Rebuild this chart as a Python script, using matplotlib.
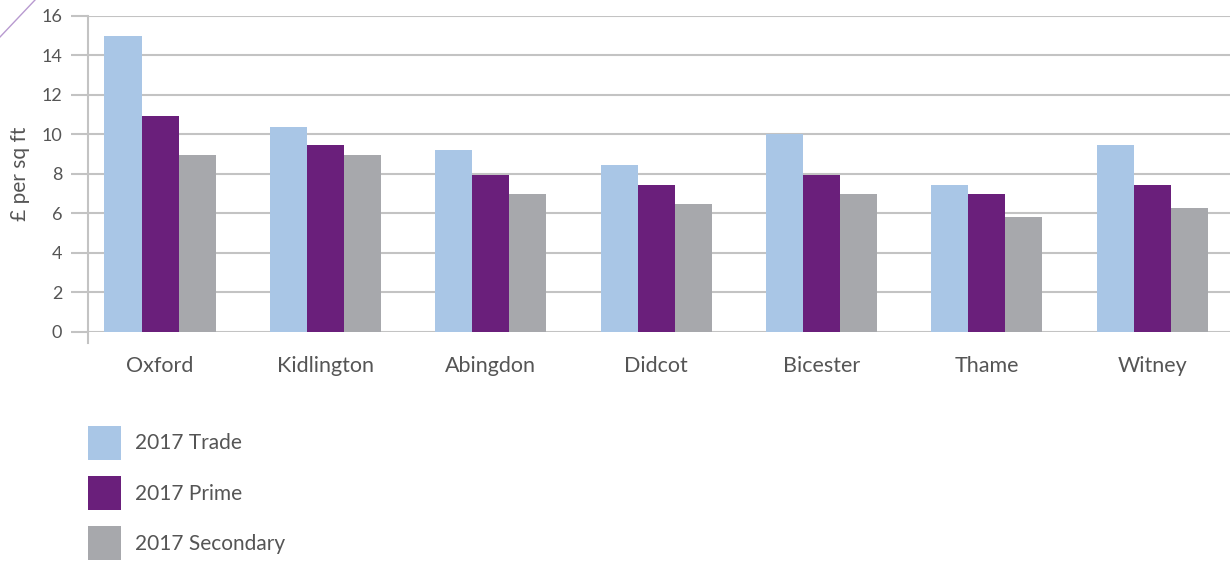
import matplotlib.pyplot as plt
import numpy as np
from matplotlib.lines import Line2D

plt.rcParams['font.family'] = ['Lato', 'DejaVu Sans']

towns = ["Oxford", "Kidlington", "Abingdon", "Didcot", "Bicester", "Thame", "Witney"]
trade = [15.0, 10.4, 9.2, 8.45, 10.0, 7.45, 9.45]
prime = [10.95, 9.45, 7.95, 7.45, 7.95, 7.0, 7.45]
secondary = [8.95, 8.95, 7.0, 6.5, 7.0, 5.8, 6.3]

series_labels = ["2017 Trade", "2017 Prime", "2017 Secondary"]
colors = ["#a9c6e6", "#6a1f7b", "#a7a8ac"]
grid_col = "#c3c3c3"
text_col = "#555555"

fig = plt.figure(figsize=(12.3, 5.61), dpi=100)
ax = fig.add_axes([0.0715, 0.4082, 0.9285, 0.5633])

x = np.arange(len(towns))
w = 0.224
handles = []
for i, (vals, lab, c) in enumerate(zip([trade, prime, secondary], series_labels, colors)):
    b = ax.bar(x + (i - 1) * w, vals, w, color=c, label=lab, zorder=3)
    handles.append(b)

ax.set_xlim(-0.436, 6.47)
ax.set_ylim(0, 16)
ax.set_yticks(range(0, 17, 2))
ax.set_xticks(x)
ax.set_xticklabels(towns)
ax.grid(axis='y', color=grid_col, linewidth=1.5, zorder=0)

for s in ["top", "right", "bottom"]:
    ax.spines[s].set_visible(False)
ax.spines["left"].set_color(grid_col)
ax.spines["left"].set_linewidth(1.5)
ax.spines["left"].set_bounds(0, 16)
# small extension of the y axis line below zero
ax.add_line(Line2D([0, 0], [0, -0.035], transform=ax.transAxes,
                   color=grid_col, linewidth=1.5, clip_on=False))

ax.tick_params(axis='y', length=12.5, width=1.5, color=grid_col,
               labelsize=13, labelcolor=text_col, pad=6)
ax.tick_params(axis='x', length=0, labelsize=15.5, labelcolor=text_col, pad=17)
ax.set_ylabel("£ per sq ft", fontsize=15, color=text_col, labelpad=8)

fig.legend(handles=handles, loc="upper left",
           bbox_to_anchor=(88 / 1230, 1 - 426 / 561),
           frameon=False, fontsize=15, handlelength=1.59, handleheight=2.12,
           labelspacing=0.78, handletextpad=0.67, borderpad=0, borderaxespad=0,
           labelcolor=text_col)

# decorative diagonal in the corner
fig.add_artist(Line2D([0, 35 / 1230], [1 - 37 / 561, 1], transform=fig.transFigure,
                      color="#b89ad0", linewidth=1))

fig.savefig("out.png", dpi=100)
